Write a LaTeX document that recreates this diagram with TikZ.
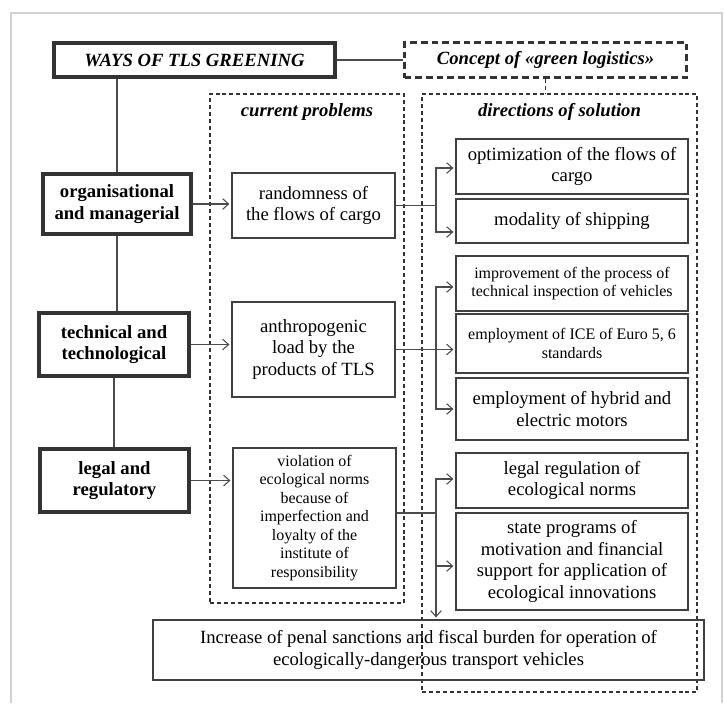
\documentclass[tikz,border=0pt]{standalone}
\usepackage{fontspec}
\setmainfont{Liberation Serif}
\usetikzlibrary{arrows.meta,calc}
\begin{document}
\begin{tikzpicture}[x=0.75pt,y=-0.75pt,
  box/.style={draw=black!75, line width=0.9pt, inner sep=0pt, align=center, font=\fontsize{14}{16.3}\selectfont},
  thickbox/.style={box, line width=3pt, draw=black!80, font=\fontsize{14}{16.3}\selectfont\bfseries},
  cbox/.style={box, line width=2.2pt, draw=black!80, dash pattern=on 5pt off 3pt, font=\fontsize{14}{16.3}\selectfont\bfseries\itshape},
  sz/.style 2 args={minimum width=#1*0.75pt, minimum height=#2*0.75pt},
  small/.style={font=\fontsize{12}{13.9}\selectfont},
  conn/.style={draw=black!70, line width=0.8pt},
  arr/.style={conn, -{Straight Barb[length=4.5pt,width=8pt]}, shorten >=1.5pt},
  group/.style={draw=black!80, line width=0.8pt, dash pattern=on 3pt off 2.2pt, inner sep=0pt},
  title/.style={font=\fontsize{14}{16.3}\selectfont\bfseries\itshape, inner sep=0pt}
]
\useasboundingbox (0,0) rectangle (724,703);
% outer frame
\draw[draw=black!18, line width=2.2pt] (11,703) -- (11,13) -- (722,13) -- (722,703);

% group boxes
\node[group, sz={194}{509}] (cp) at (307,348.5) {};
\node[group, sz={275}{598}] (ds) at (559.5,393) {};
\node[title] (cpt) at (307,112) {current problems};
\node[title] (dst) at (559.5,112) {directions of solution};

% top
\node[thickbox, sz={281}{34}, font=\fontsize{14}{16.3}\selectfont\bfseries\itshape] (ways) at (194.5,60) {WAYS OF TLS GREENING};
\node[cbox, sz={282}{35}] (concept) at (545.5,60) {Concept of «green logistics»};

% left column
\node[thickbox, sz={148}{60}] (org) at (117,204) {organisational\\and managerial};
\node[thickbox, sz={150}{63}] (tech) at (114,344.5) {technical and\\technological};
\node[thickbox, sz={149}{63}] (legal) at (114.5,480.5) {legal and\\regulatory};

% middle column
\node[box, sz={163}{65}] (random) at (313.5,205.5) {randomness of\\the flows of cargo};
\node[box, sz={163}{95}] (anthro) at (313.5,349.5) {anthropogenic\\load by the\\products of TLS};
\node[box, small, sz={163}{140}] (viol) at (314.5,518) {violation of\\ecological norms\\because of\\imperfection and\\loyalty of the\\institute of\\responsibility};

% right column
\node[box, sz={232}{55}] (opt) at (572,166.5) {optimization of the flows of\\cargo};
\node[box, sz={232}{44}] (mod) at (572,221) {modality of shipping};
\node[box, small, sz={232}{55}] (imp) at (572,283.5) {improvement of the process of\\technical inspection of vehicles};
\node[box, small, sz={232}{59}] (ice) at (572,343.5) {employment of ICE of Euro 5, 6\\standards};
\node[box, sz={232}{62}] (hyb) at (572,409) {employment of hybrid and\\electric motors};
\node[box, sz={232}{55}] (legreg) at (572,480.5) {legal regulation of\\ecological norms};
\node[box, sz={232}{97}] (state) at (572,561.5) {state programs of\\motivation and financial\\support for application of\\ecological innovations};

% bottom
\node[box, sz={551}{60}] (bottom) at (428.5,650) {Increase of penal sanctions and fiscal burden for operation of\\ecologically-dangerous transport vehicles};

% connectors
\draw[conn] (ways) -- (concept);
\draw[group] (concept.south) -- (concept.south |- ds.north);
\draw[conn] (ways.south -| org.north) -- (org.north);
\draw[conn] (org.south) -- (org.south |- tech.north);
\draw[conn] (tech.south) -- (tech.south |- legal.north);

\draw[arr] (org.east) -- (org.east -| random.west);
\draw[arr] (tech.east) -- (tech.east -| anthro.west);
\draw[arr] (legal.east) -- (legal.east -| viol.west);

\coordinate (j1) at (436,205.5);
\draw[conn] (random.east) -- (j1);
\draw[arr] (j1) |- ($(opt.west)+(0,1.5)$);
\draw[arr] (j1) |- ($(mod.west)+(0,11)$);

\coordinate (j2) at (436,349.5);
\draw[arr] (anthro.east) -- (anthro.east -| ice.west);
\draw[arr] (j2) |- ($(imp.west)+(0,3.5)$);
\draw[arr] (j2) |- (hyb.west);

\coordinate (j3) at (436,513);
\draw[conn] ($(viol.east)+(0,-5)$) -- (j3);
\draw[arr] (j3) |- ($(legreg.west)+(0,-1.5)$);
\draw[arr] (j3) |- ($(state.west)+(0,4.5)$);
\draw[arr] (j3) -- (j3 |- bottom.north);
\end{tikzpicture}
\end{document}
